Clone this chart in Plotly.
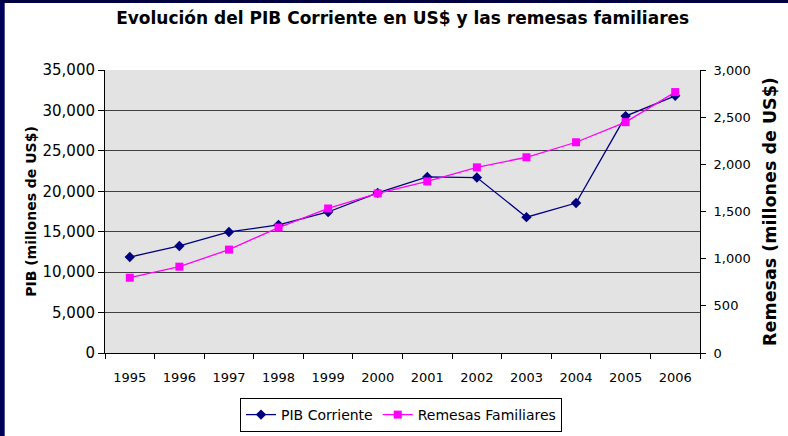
import plotly.graph_objects as go

# Data
years = ['1995', '1996', '1997', '1998', '1999', '2000',
         '2001', '2002', '2003', '2004', '2005', '2006']
pib_corriente = [11870, 13240, 14970, 15850, 17440, 19800,
                 21770, 21700, 16800, 18550, 29300, 31800]
remesas_familiares = [798, 915, 1096, 1330, 1532, 1692,
                      1819, 1968, 2075, 2234, 2447, 2766]
pib_ticks = [0, 5000, 10000, 15000, 20000, 25000, 30000, 35000]
remesas_ticks = [0, 500, 1000, 1500, 2000, 2500, 3000]

# Figure geometry (pixels)
W, H = 788, 436
L, R, T, B = 105, 84, 70, 83
PW, PH = W - L - R, H - T - B


def px_x(x):
    return (x - L) / PW


def px_y(y):
    return (H - B - y) / PH


FONT = 'DejaVu Sans'
NAVY = '#000080'
MAGENTA = '#ff00ff'

fig = go.Figure()

fig.add_trace(go.Scatter(
    x=years, y=pib_corriente, name='PIB Corriente',
    mode='lines+markers',
    line=dict(color=NAVY, width=1.3),
    marker=dict(symbol='diamond', size=8, color=NAVY),
    yaxis='y'
))

fig.add_trace(go.Scatter(
    x=years, y=remesas_familiares, name='Remesas Familiares',
    mode='lines+markers',
    line=dict(color=MAGENTA, width=1.3),
    marker=dict(symbol='square', size=8, color=MAGENTA),
    yaxis='y2'
))

fig.update_layout(
    width=W, height=H,
    margin=dict(l=L, r=R, t=T, b=B),
    paper_bgcolor='white',
    plot_bgcolor='#e3e3e3',
    font=dict(family=FONT, color='black', size=13),
    title=dict(
        text='<b>Evolución del PIB Corriente en US$ y las remesas familiares</b>',
        x=0.511, xanchor='center', y=1 - 18 / H, yanchor='middle',
        font=dict(family=FONT, size=17, color='black')
    ),
    xaxis=dict(
        type='category', range=[-0.5, 11.5],
        showline=True, linecolor='black', linewidth=1,
        ticks='outside', ticklen=5, tickcolor='black', tickson='boundaries',
        ticklabelstandoff=12,
        showgrid=False, zeroline=False,
        tickfont=dict(family=FONT, size=13, color='black')
    ),
    yaxis=dict(
        range=[0, 35000], tickvals=pib_ticks, tickformat=',',
        showline=True, linecolor='black', linewidth=1,
        ticks='outside', ticklen=6, tickcolor='black',
        showgrid=True, gridcolor='#404040', gridwidth=1,
        zeroline=False,
        tickfont=dict(family=FONT, size=15, color='black'),
        title=dict(text='<b>PIB (millones de US$)</b>', standoff=2,
                   font=dict(family=FONT, size=14, color='black'))
    ),
    yaxis2=dict(
        range=[0, 3000], tickvals=remesas_ticks, tickformat=',',
        overlaying='y', side='right',
        showline=True, linecolor='black', linewidth=1,
        ticks='outside', ticklen=5, tickcolor='black',
        ticklabelstandoff=5,
        showgrid=False, zeroline=False,
        tickfont=dict(family=FONT, size=13, color='black'),
        title=dict(text='<b>Remesas (millones de US$)</b>', standoff=13,
                   font=dict(family=FONT, size=17.5, color='black'))
    ),
    legend=dict(
        orientation='h', x=px_x(403), xanchor='center',
        yref='container', y=1 - 398 / H, yanchor='top',
        bgcolor='white', bordercolor='black', borderwidth=1,
        font=dict(family=FONT, size=14, color='black'),
        itemwidth=30, tracegroupgap=0
    ),
    showlegend=True,
    shapes=[
        # dark slide frame: left bar
        dict(type='rect', xref='paper', yref='paper', layer='above',
             x0=px_x(-2), x1=px_x(4), y0=px_y(H + 2), y1=px_y(-2),
             fillcolor='#00005a', line=dict(width=0)),
    ],
    annotations=[
        # dark slide frame: top bar, drawn as an empty filled box
        dict(text='', showarrow=False, xref='paper', yref='paper',
             x=px_x(0), xanchor='left', y=px_y(0), yanchor='top',
             width=W, height=3, borderpad=0, borderwidth=0,
             bgcolor='#000040'),
    ]
)

# drop the browser's default page margin so the figure sits at 0,0
fig.write_html('out.html', config={'displayModeBar': False},
               post_script="document.body.style.margin='0';")
